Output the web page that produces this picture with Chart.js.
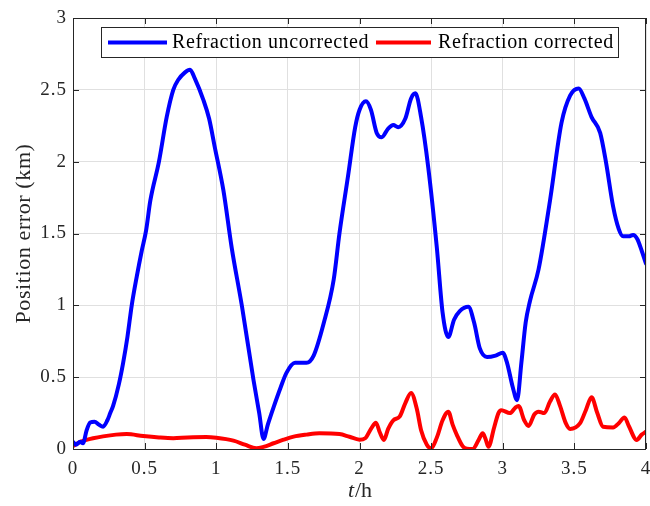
<!DOCTYPE html>
<html><head><meta charset="utf-8">
<script src="https://cdn.jsdelivr.net/npm/chart.js@4.4.1/dist/chart.umd.min.js"></script>
<style>html,body{margin:0;padding:0;background:#fff}#wrap{width:650px;height:506px}</style>
</head><body><div id="wrap"><canvas id="c" width="650" height="506"></canvas></div>
<script>
const seriesLabels = ['Refraction uncorrected', 'Refraction corrected'];
const xTicks = [0, 0.5, 1, 1.5, 2, 2.5, 3, 3.5, 4];
const yTicks = [0, 0.5, 1, 1.5, 2, 2.5, 3];
const uncorrT = [0,0.02,0.05,0.07,0.095,0.12,0.15,0.18,0.21,0.24,0.26,0.28,0.32,0.35,0.38,0.41,0.445,0.48,0.51,0.54,0.6,0.654,0.7,0.735,0.78,0.817,0.85,0.91,0.95,0.99,1.05,1.108,1.18,1.26,1.3,1.33,1.36,1.40,1.45,1.49,1.55,1.6,1.63,1.68,1.75,1.82,1.86,1.92,1.97,2.0,2.045,2.08,2.12,2.155,2.2,2.236,2.27,2.32,2.36,2.39,2.43,2.48,2.54,2.58,2.62,2.66,2.7,2.76,2.8,2.84,2.89,2.95,3.0,3.03,3.07,3.10,3.13,3.16,3.19,3.25,3.33,3.41,3.47,3.53,3.57,3.62,3.68,3.72,3.77,3.81,3.84,3.88,3.91,3.94,3.97,4.0];
const uncorrErr = [0.05,0.03,0.05,0.04,0.13,0.185,0.19,0.17,0.155,0.2,0.25,0.3,0.45,0.6,0.78,1.0,1.2,1.38,1.52,1.73,2.0,2.31,2.5,2.57,2.62,2.64,2.58,2.43,2.3,2.1,1.8,1.40,0.99,0.48,0.25,0.07,0.17,0.29,0.43,0.53,0.6,0.6,0.6,0.65,0.875,1.18,1.5,1.9,2.24,2.36,2.42,2.36,2.2,2.17,2.23,2.255,2.24,2.30,2.44,2.476,2.31,1.96,1.40,0.95,0.78,0.9,0.96,0.99,0.88,0.7,0.64,0.65,0.67,0.6,0.43,0.34,0.6,0.88,1.03,1.25,1.73,2.27,2.46,2.51,2.44,2.31,2.2,2.0,1.69,1.53,1.48,1.48,1.49,1.46,1.38,1.29];
const corrT = [0,0.05,0.1,0.14,0.21,0.3,0.375,0.49,0.6,0.7,0.8,0.93,1.0,1.12,1.2,1.28,1.33,1.40,1.47,1.54,1.63,1.72,1.86,1.93,2.0,2.04,2.08,2.115,2.14,2.17,2.2,2.236,2.28,2.32,2.36,2.4,2.43,2.47,2.50,2.54,2.58,2.62,2.65,2.68,2.72,2.75,2.79,2.83,2.86,2.88,2.90,2.94,2.97,2.99,3.05,3.09,3.11,3.15,3.18,3.22,3.25,3.29,3.33,3.365,3.4,3.44,3.47,3.54,3.58,3.62,3.66,3.70,3.77,3.81,3.85,3.88,3.935,3.97,4.0];
const corrErr = [0.02,0.05,0.065,0.075,0.088,0.1,0.104,0.09,0.08,0.075,0.08,0.083,0.078,0.058,0.03,0.005,0.015,0.04,0.065,0.086,0.1,0.109,0.104,0.085,0.065,0.075,0.14,0.183,0.12,0.063,0.14,0.2,0.225,0.32,0.39,0.28,0.13,0.03,0.005,0.08,0.2,0.26,0.17,0.097,0.02,0.002,0.0,0.06,0.109,0.07,0.016,0.15,0.25,0.27,0.25,0.29,0.30,0.2,0.16,0.24,0.26,0.25,0.33,0.38,0.3,0.18,0.14,0.18,0.27,0.36,0.25,0.155,0.15,0.18,0.22,0.16,0.063,0.1,0.12];

const SERIF = '"Liberation Serif", "Times New Roman", serif';
const toPts = (xs, ys) => xs.map((x, i) => ({x: x, y: ys[i]}));

const framePlugin = {
  id: 'frame',
  beforeDraw(chart) {
    chart.ctx.letterSpacing = '1px';
  },
  afterDraw(chart) {
    const ctx = chart.ctx, a = chart.chartArea;
    const xs = chart.scales.x, ys = chart.scales.y;
    ctx.save();
    ctx.strokeStyle = '#262626';
    ctx.lineWidth = 1;
    ctx.beginPath();
    const tl = 6;
    xTicks.forEach(v => {
      const p = Math.round(xs.getPixelForValue(v)) + 0.5;
      ctx.moveTo(p, a.bottom); ctx.lineTo(p, a.bottom - tl);
      ctx.moveTo(p, a.top); ctx.lineTo(p, a.top + tl);
    });
    yTicks.forEach(v => {
      const p = Math.round(ys.getPixelForValue(v)) + 0.5;
      ctx.moveTo(a.left, p); ctx.lineTo(a.left + tl, p);
      ctx.moveTo(a.right, p); ctx.lineTo(a.right - tl, p);
    });
    ctx.stroke();
    ctx.strokeRect(Math.round(a.left) + 0.5, Math.round(a.top) + 0.5, Math.round(a.right - a.left) - 1, Math.round(a.bottom - a.top));

    // legend
    const lx = 101, ly = 27, lw = 517, lh = 30;
    ctx.fillStyle = '#ffffff';
    ctx.fillRect(lx, ly, lw, lh);
    ctx.strokeStyle = '#262626';
    ctx.strokeRect(lx + 0.5, ly + 0.5, lw, lh);
    ctx.font = '20px ' + SERIF;
    ctx.letterSpacing = '0.6px';
    ctx.textBaseline = 'middle';
    ctx.fillStyle = '#000';
    const items = [
      {x1: 108, x2: 167, tx: 172, color: '#0000ff', label: chart.data.datasets[0].label},
      {x1: 376, x2: 431, tx: 438, color: '#ff0000', label: chart.data.datasets[1].label}
    ];
    items.forEach(it => {
      ctx.strokeStyle = it.color;
      ctx.lineWidth = 4;
      ctx.beginPath();
      ctx.moveTo(it.x1, ly + lh / 2 + 0.5); ctx.lineTo(it.x2, ly + lh / 2 + 0.5);
      ctx.stroke();
      ctx.fillText(it.label, it.tx, ly + lh / 2 + 1);
    });

    // x title: t/h with italic t
    ctx.fillStyle = '#262626';
    ctx.letterSpacing = '0px';
    ctx.textBaseline = 'alphabetic';
    const cx = (a.left + a.right) / 2;
    ctx.font = 'italic 22px ' + SERIF;
    const w1 = ctx.measureText('t').width;
    ctx.font = '22px ' + SERIF;
    const w2 = ctx.measureText('/h').width;
    const sx = cx - (w1 + w2) / 2;
    ctx.font = 'italic 22px ' + SERIF;
    ctx.fillText('t', sx, 497);
    ctx.font = '22px ' + SERIF;
    ctx.fillText('/h', sx + w1 + 1, 497);

    // y title
    ctx.save();
    ctx.letterSpacing = '0.6px';
    ctx.translate(24, (a.top + a.bottom) / 2);
    ctx.rotate(-Math.PI / 2);
    ctx.textAlign = 'center';
    ctx.textBaseline = 'middle';
    ctx.font = '22px ' + SERIF;
    ctx.fillText('Position error (km)', 0, 0);
    ctx.restore();
    ctx.restore();
  }
};

new Chart(document.getElementById('c'), {
  type: 'scatter',
  data: {
    datasets: [
      {label: seriesLabels[0], data: toPts(uncorrT, uncorrErr), showLine: true, borderColor: '#0000ff', backgroundColor: '#0000ff', borderWidth: 4, pointRadius: 0, cubicInterpolationMode: 'monotone', borderJoinStyle: 'round', borderCapStyle: 'round'},
      {label: seriesLabels[1], data: toPts(corrT, corrErr), showLine: true, borderColor: '#ff0000', backgroundColor: '#ff0000', borderWidth: 4, pointRadius: 0, cubicInterpolationMode: 'monotone', borderJoinStyle: 'round', borderCapStyle: 'round'}
    ]
  },
  options: {
    responsive: false,
    animation: false,
    events: [],
    layout: {padding: {left: 0, right: 4, top: 18, bottom: 0}},
    plugins: {legend: {display: false}, tooltip: {enabled: false}},
    scales: {
      x: {
        type: 'linear', min: 0, max: 4,
        afterBuildTicks: s => { s.ticks = xTicks.map(v => ({value: v})); },
        afterFit: s => { s.height = 57; s.paddingLeft = 0; s.paddingRight = 0; },
        grid: {color: '#e0e0e0', drawTicks: false, lineWidth: 1},
        border: {display: false},
        ticks: {padding: 9, color: '#262626', font: {family: SERIF, size: 19}, maxRotation: 0, callback: v => String(v)}
      },
      y: {
        type: 'linear', min: 0, max: 3,
        afterBuildTicks: s => { s.ticks = yTicks.map(v => ({value: v})); },
        afterFit: s => { s.width = 73; s.paddingTop = 0; s.paddingBottom = 0; },
        grid: {color: '#e0e0e0', drawTicks: false, lineWidth: 1},
        border: {display: false},
        ticks: {padding: 6, color: '#262626', font: {family: SERIF, size: 19}, callback: v => String(v)}
      }
    }
  },
  plugins: [framePlugin]
});
</script></body></html>
